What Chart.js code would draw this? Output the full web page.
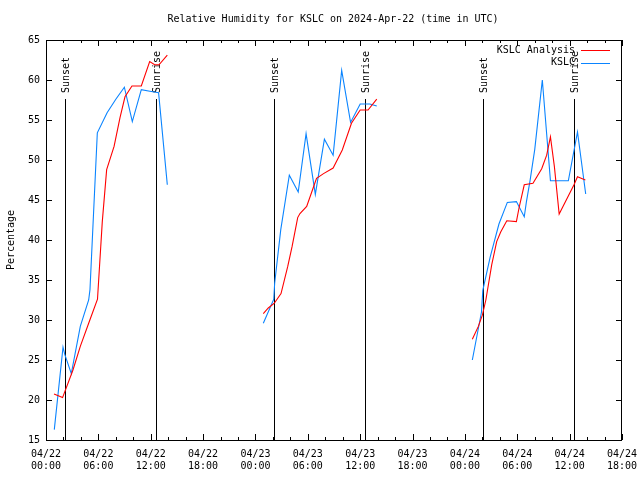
<!DOCTYPE html>
<html><head><meta charset="utf-8">
<script src="https://cdn.jsdelivr.net/npm/chart.js@4/dist/chart.umd.min.js"></script>
<style>html,body{margin:0;padding:0;background:#fff}canvas{display:block}</style>
</head><body>
<canvas id="c" width="640" height="480"></canvas>
<script>
const titleText = 'Relative Humidity for KSLC on 2024-Apr-22 (time in UTC)';
const yAxisTitle = 'Percentage';
const seriesNames = ['KSLC Analysis', 'KSLC'];
const seriesColors = ['#ff0000', '#0a84ff'];

// x values are hours since 2024-04-22 00:00 UTC
const xTickLabels = [
  ['04/22','00:00'],['04/22','06:00'],['04/22','12:00'],['04/22','18:00'],
  ['04/23','00:00'],['04/23','06:00'],['04/23','12:00'],['04/23','18:00'],
  ['04/24','00:00'],['04/24','06:00'],['04/24','12:00'],['04/24','18:00']
];

const analysisTime = [0.92, 1.9, 3.09, 3.93, 4.89, 5.9, 6.45, 6.95, 7.8, 8.48, 9.05, 9.85, 10.92, 11.88, 12.45, 12.95, 13.9,
  18,
  24.9, 25.47, 26.16, 26.93, 27.7, 28.2, 28.84, 29.1, 29.87, 30.8, 31.0, 31.8, 32.9, 33.95, 35.0, 36.0, 36.9, 37.9,
  44,
  48.85, 49.54, 50.0, 50.4, 51.07, 51.64, 52.1, 52.8, 53.9, 54.2, 54.8, 55.8, 56.8, 57.37, 57.8, 58.25, 58.8, 60.5, 60.9, 61.8];
const analysisRh = [20.75, 20.3, 23.75, 26.7, 29.6, 32.6, 42.3, 48.8, 51.7, 55.3, 57.9, 59.25, 59.25, 62.3, 61.9, 61.9, 63.1,
  null,
  30.8, 31.5, 32.1, 33.3, 36.7, 39.2, 42.8, 43.3, 44.2, 47.1, 47.7, 48.3, 49.0, 51.25, 54.6, 56.25, 56.25, 57.6,
  null,
  27.6, 29.2, 30.6, 32.5, 36.9, 39.8, 41.0, 42.4, 42.3, 44.0, 46.9, 47.1, 48.9, 50.6, 52.9, 49.2, 43.25, 46.9, 47.9, 47.5];

const obsTime = [0.95, 1.95, 2.15, 2.9, 3.93, 4.89, 5.04, 5.88, 7.0, 8.0, 8.98, 9.89, 10.92, 11.9, 12.9, 13.9,
  18,
  24.9, 26.1, 26.2, 26.9, 27.88, 28.9, 29.8, 30.86, 31.9, 32.9, 33.88, 34.9, 36.0, 37.1, 37.9,
  44,
  48.85, 49.9, 50.05, 50.9, 51.9, 52.86, 53.9, 54.8, 55.05, 55.46, 56.0, 56.87, 57.8, 59.85, 60.9, 61.84];
const obsRh = [16.3, 26.6, 25.7, 23.3, 29.2, 32.5, 33.8, 53.4, 55.9, 57.6, 59.1, 54.8, 58.8, 58.6, 58.4, 46.9,
  null,
  29.6, 32.6, 34.6, 41.3, 48.1, 46.0, 53.3, 45.7, 52.6, 50.6, 61.2, 54.7, 57.0, 57.0, 56.75,
  null,
  25.0, 31.0, 33.7, 37.9, 42.0, 44.7, 44.8, 42.9, 44.8, 47.4, 51.3, 60.0, 47.4, 47.4, 53.5, 45.75];

const sunsetTimes = [2.21, 26.16, 50.11];
const sunriseTimes = [12.64, 36.59, 60.54];
const sunLineTop = 57.6;

const FONT = '"DejaVu Sans Mono", "Liberation Mono", monospace';

const toPoints = (t, v) => t.map((x, i) => ({x: x, y: v[i]}));

const decor = {
  id: 'decor',
  beforeDatasetsDraw(chart) {
    const ctx = chart.ctx, xs = chart.scales.x, ys = chart.scales.y, ca = chart.chartArea;
    ctx.save();
    ctx.strokeStyle = '#000'; ctx.lineWidth = 1;
    ctx.fillStyle = '#000';
    ctx.font = '10px ' + FONT;
    const yTop = ys.getPixelForValue(sunLineTop);
    const drawSun = (times, label) => {
      times.forEach(t => {
        const px = Math.round(xs.getPixelForValue(t)) + 0.5;
        ctx.beginPath(); ctx.moveTo(px, Math.round(yTop)); ctx.lineTo(px, ca.bottom); ctx.stroke();
        ctx.save();
        ctx.translate(px + 1, Math.round(yTop) - 6);
        ctx.rotate(-Math.PI / 2);
        ctx.textAlign = 'left'; ctx.textBaseline = 'middle';
        ctx.fillText(label, 0, 0);
        ctx.restore();
      });
    };
    drawSun(sunsetTimes, 'Sunset');
    drawSun(sunriseTimes, 'Sunrise');
    ctx.restore();
  },
  afterDraw(chart) {
    const ctx = chart.ctx, xs = chart.scales.x, ys = chart.scales.y, ca = chart.chartArea;
    ctx.save();
    ctx.strokeStyle = '#000'; ctx.lineWidth = 1;
    // frame
    ctx.strokeRect(Math.round(ca.left) + 0.5, Math.round(ca.top) + 0.5,
                   Math.round(ca.right - ca.left) - 1, Math.round(ca.bottom - ca.top));
    // inward ticks
    ctx.beginPath();
    for (let h = xs.min; h <= xs.max + 0.001; h += 2) {
      const px = Math.round(xs.getPixelForValue(h)) + 0.5;
      const len = (h % 6 === 0) ? 6 : 3;
      ctx.moveTo(px, ca.bottom); ctx.lineTo(px, ca.bottom - len);
      ctx.moveTo(px, ca.top); ctx.lineTo(px, ca.top + len);
    }
    for (let v = ys.min; v <= ys.max + 0.001; v += 5) {
      const py = Math.round(ys.getPixelForValue(v)) + 0.5;
      ctx.moveTo(ca.left, py); ctx.lineTo(ca.left + 6, py);
      ctx.moveTo(ca.right, py); ctx.lineTo(ca.right - 6, py);
    }
    ctx.stroke();
    ctx.fillStyle = '#000';
    ctx.font = '10px ' + FONT;
    // title
    ctx.textAlign = 'center'; ctx.textBaseline = 'middle';
    ctx.fillText(titleText, (ca.left + ca.right) / 2 - 1, 19);
    // y axis title
    ctx.save();
    ctx.translate(11, (ca.top + ca.bottom) / 2);
    ctx.rotate(-Math.PI / 2);
    ctx.fillText(yAxisTitle, 0, 0);
    ctx.restore();
    // legend
    ctx.textAlign = 'right';
    chart.data.datasets.forEach((ds, i) => {
      const y = 50 + i * 12.5;
      ctx.fillStyle = '#000';
      ctx.fillText(ds.label, 575, y);
      ctx.strokeStyle = ds.borderColor;
      ctx.beginPath(); ctx.moveTo(581, Math.round(y) + 0.5); ctx.lineTo(610, Math.round(y) + 0.5); ctx.stroke();
    });
    ctx.restore();
  }
};

new Chart(document.getElementById('c'), {
  type: 'line',
  data: {
    datasets: [
      {label: seriesNames[0], data: toPoints(analysisTime, analysisRh), borderColor: seriesColors[0],
       borderWidth: 1.1, pointRadius: 0, tension: 0, spanGaps: false, fill: false},
      {label: seriesNames[1], data: toPoints(obsTime, obsRh), borderColor: seriesColors[1],
       borderWidth: 1.1, pointRadius: 0, tension: 0, spanGaps: false, fill: false}
    ]
  },
  options: {
    responsive: false,
    animation: false,
    layout: {padding: {left: 0, top: 40, right: 18, bottom: 0}},
    plugins: {legend: {display: false}, tooltip: {enabled: false}, title: {display: false}},
    scales: {
      x: {
        type: 'linear', min: 0, max: 66,
        afterFit: s => { s.height = 40; s.paddingLeft = 0; s.paddingRight = 0; },
        afterBuildTicks: s => { s.ticks = xTickLabels.map((l, i) => ({value: i * 6})); },
        grid: {display: false, drawTicks: false},
        border: {display: false},
        ticks: {
          autoSkip: false, maxRotation: 0, minRotation: 0, padding: 8, color: '#000',
          font: {family: FONT, size: 10, lineHeight: 1.2},
          callback: (v, i) => xTickLabels[i]
        }
      },
      y: {
        min: 15, max: 65,
        afterFit: s => { s.width = 46; s.paddingTop = 0; s.paddingBottom = 0; },
        grid: {display: false, drawTicks: false},
        border: {display: false},
        ticks: {stepSize: 5, padding: 6, color: '#000', font: {family: FONT, size: 10}}
      }
    }
  },
  plugins: [decor]
});
</script>
</body></html>
